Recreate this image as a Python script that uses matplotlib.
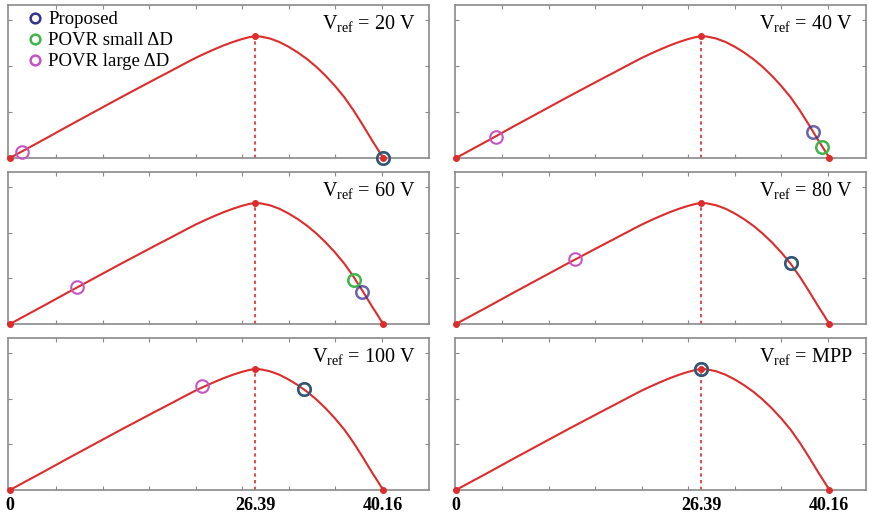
import matplotlib
matplotlib.use("Agg")
import matplotlib.pyplot as plt
from matplotlib.lines import Line2D

plt.rcParams['font.family'] = ['Liberation Serif', 'DejaVu Serif']
plt.rcParams['mathtext.fontset'] = 'custom'
plt.rcParams['mathtext.rm'] = 'Liberation Serif'

# P-V curve (V in volts, P in watts, unlabelled y axis)
v_curve = [0, 2, 4, 6, 8, 10, 12, 14, 16, 17, 18, 19, 20, 21, 22, 23, 24, 25, 25.8, 26.39,
           27, 28, 29, 30, 31, 32, 33, 34, 35, 36, 37, 38, 39, 39.6, 40.16]
p_curve = [0, 22, 44, 66.5, 88.5, 110.5, 132.5, 154, 175.5, 186, 196.8, 207.5, 218, 227.5,
           236.5, 245, 252.5, 259, 263.2, 265,
           264.3, 260, 252.5, 242, 229.5, 215, 198, 178.5, 156.5, 132, 103, 71, 37.5, 18.5, 0]

v_mpp, p_mpp = 26.39, 265
v_oc = 40.16

titles = ['20 V', '40 V', '60 V', '80 V', '100 V', 'MPP']
# operating points (V, P) per panel
proposed = [(40.16, 0), (38.4, 57), (37.9, 71), (36.0, 133), (31.6, 222), (26.39, 265)]
povr_small = [(40.16, 0), (39.4, 25), (37.0, 96), (36.0, 133), (31.6, 222), (26.39, 265)]
povr_large = [(1.3, 14), (4.3, 46), (7.2, 82), (12.8, 143), (20.65, 228), (26.39, 265)]

c_red = '#dc2c2c'
c_blue = '#34348c'
c_green = '#3fb54a'
c_pink = '#c455c4'

W, H = 870, 521
fig = plt.figure(figsize=(8.7, 5.21), dpi=100)

cols = [(8, 429, -0.2, 45.1), (455, 866, -0.1, 44.1)]
rows = [(5, 158), (172, 324), (338, 490)]

for i in range(6):
    r, c = divmod(i, 2)
    x0, x1, xl0, xl1 = cols[c]
    y0, y1 = rows[r]
    ax = fig.add_axes([x0 / W, 1 - y1 / H, (x1 - x0) / W, (y1 - y0) / H])

    ax.plot(v_curve, p_curve, color=c_red, lw=1.5, zorder=2)
    ax.plot([v_mpp, v_mpp], [0, p_mpp], color=c_red, lw=1.2, ls=(0, (2, 2)), zorder=2)
    ax.plot([0, v_mpp, v_oc], [0, p_mpp, 0], 'o', color=c_red, ms=4,
            mfc=c_red, zorder=3, clip_on=False)

    ax.plot(*povr_large[i], 'o', ms=9, mfc='none', mec=c_pink, mew=1.5, zorder=4, clip_on=False)
    ax.plot(*povr_small[i], 'o', ms=9, mfc='none', mec=c_green, mew=1.8, zorder=5, clip_on=False)
    ax.plot(*proposed[i], 'o', ms=9, mfc='none', mec=c_blue, mew=1.8, zorder=6,
            alpha=0.75, clip_on=False)

    ax.set_xlim(xl0, xl1)
    ax.set_ylim(0, 333)
    ax.set_xticks([0, v_mpp, v_oc])
    ax.set_xticks(range(5, 45, 5), minor=True)
    ax.set_yticks([100, 200, 300])
    ax.tick_params(which='both', direction='in', top=True, right=True,
                   length=3, width=0.8, color='#888888')
    ax.tick_params(axis='x', which='major', length=0)
    ax.set_yticklabels([])
    if r == 2:
        ax.set_xticklabels(['0', '26.39', '40.16'], fontsize=13, fontweight='bold')
        ax.tick_params(axis='x', which='major', pad=5)
    else:
        ax.set_xticklabels([])
    for s in ax.spines.values():
        s.set_color('#8a8a8a')
        s.set_linewidth(1.2)

    ax.text(0.968, 0.94, r'V$_{\mathrm{ref}}$ = ' + titles[i], transform=ax.transAxes,
            ha='right', va='top', fontsize=14.5)

    if i == 0:
        handles = [Line2D([], [], ls='none', marker='o', ms=7, mfc='none', mec=col, mew=1.8)
                   for col in (c_blue, c_green, c_pink)]
        ax.legend(handles, ['Proposed', 'POVR small ΔD', 'POVR large ΔD'],
                  loc='upper left', bbox_to_anchor=(0.02, 1.045), frameon=False,
                  fontsize=13.5, handlelength=0.6, handletextpad=0.4, labelspacing=0.2,
                  borderaxespad=0.3)

fig.savefig('out.png', dpi=100)
